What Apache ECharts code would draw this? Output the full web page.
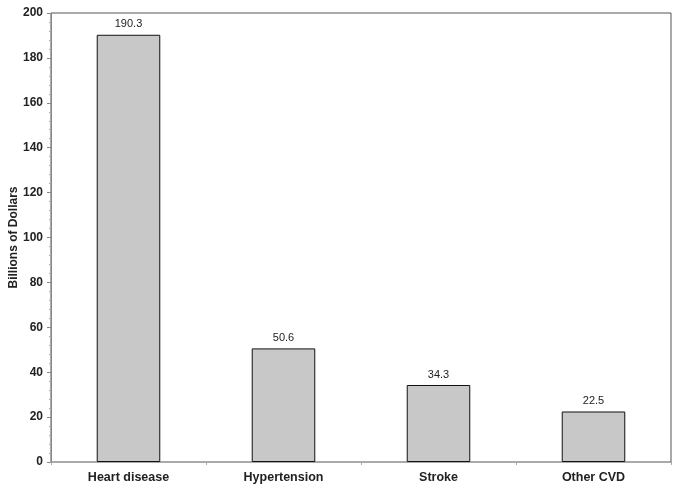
<!DOCTYPE html>
<html><head><meta charset="utf-8">
<script src="https://cdn.jsdelivr.net/npm/echarts@6/dist/echarts.min.js"></script>
<style>html,body{margin:0;padding:0;background:#fff}#c{width:682px;height:493px}</style>
</head><body><div id="c"></div>
<script>
const categories = ['Heart disease', 'Hypertension', 'Stroke', 'Other CVD'];
const values = [190.3, 50.6, 34.3, 22.5];
const yTicks = [0, 20, 40, 60, 80, 100, 120, 140, 160, 180, 200];
const yName = 'Billions of Dollars';

const chart = echarts.init(document.getElementById('c'));
chart.setOption({
  animation: false,
  grid: { left: 51, right: 11, top: 13, bottom: 31, containLabel: false, outerBoundsMode: 'none', show: true, borderColor: '#555', borderWidth: 1 },
  xAxis: {
    type: 'category', data: categories,
    axisLine: { lineStyle: { color: '#aaa', width: 1 } },
    axisTick: { show: true, length: 3, lineStyle: { color: '#aaa' } },
    axisLabel: { color: '#222', fontFamily: 'Liberation Sans, Arial', fontWeight: 'bold', fontSize: 12.5, margin: 9 }
  },
  yAxis: {
    type: 'value', min: yTicks[0], max: yTicks[yTicks.length - 1], interval: 20,
    name: yName, nameLocation: 'middle', nameGap: 31, nameRotate: 90, nameMoveOverlap: false,
    nameTextStyle: { color: '#222', fontFamily: 'Liberation Sans, Arial', fontWeight: 'bold', fontSize: 12 },
    axisLine: { show: true, lineStyle: { color: '#888', width: 1 } },
    axisTick: { show: true, length: 4, lineStyle: { color: '#888' } },
    minorTick: { show: true, splitNumber: 5, length: 2, lineStyle: { color: '#aaa' } },
    splitLine: { show: false },
    axisLabel: { color: '#222', fontFamily: 'Liberation Sans, Arial', fontWeight: 'bold', fontSize: 12, margin: 8 }
  },
  series: [{
    type: 'bar', data: values, barWidth: '41%',
    itemStyle: { color: '#c8c8c8', borderColor: '#111', borderWidth: 1 },
    label: { show: true, position: 'top', distance: 5, color: '#222', fontFamily: 'Liberation Sans, Arial', fontSize: 11, formatter: p => p.value.toFixed(1) }
  }]
});
</script></body></html>
